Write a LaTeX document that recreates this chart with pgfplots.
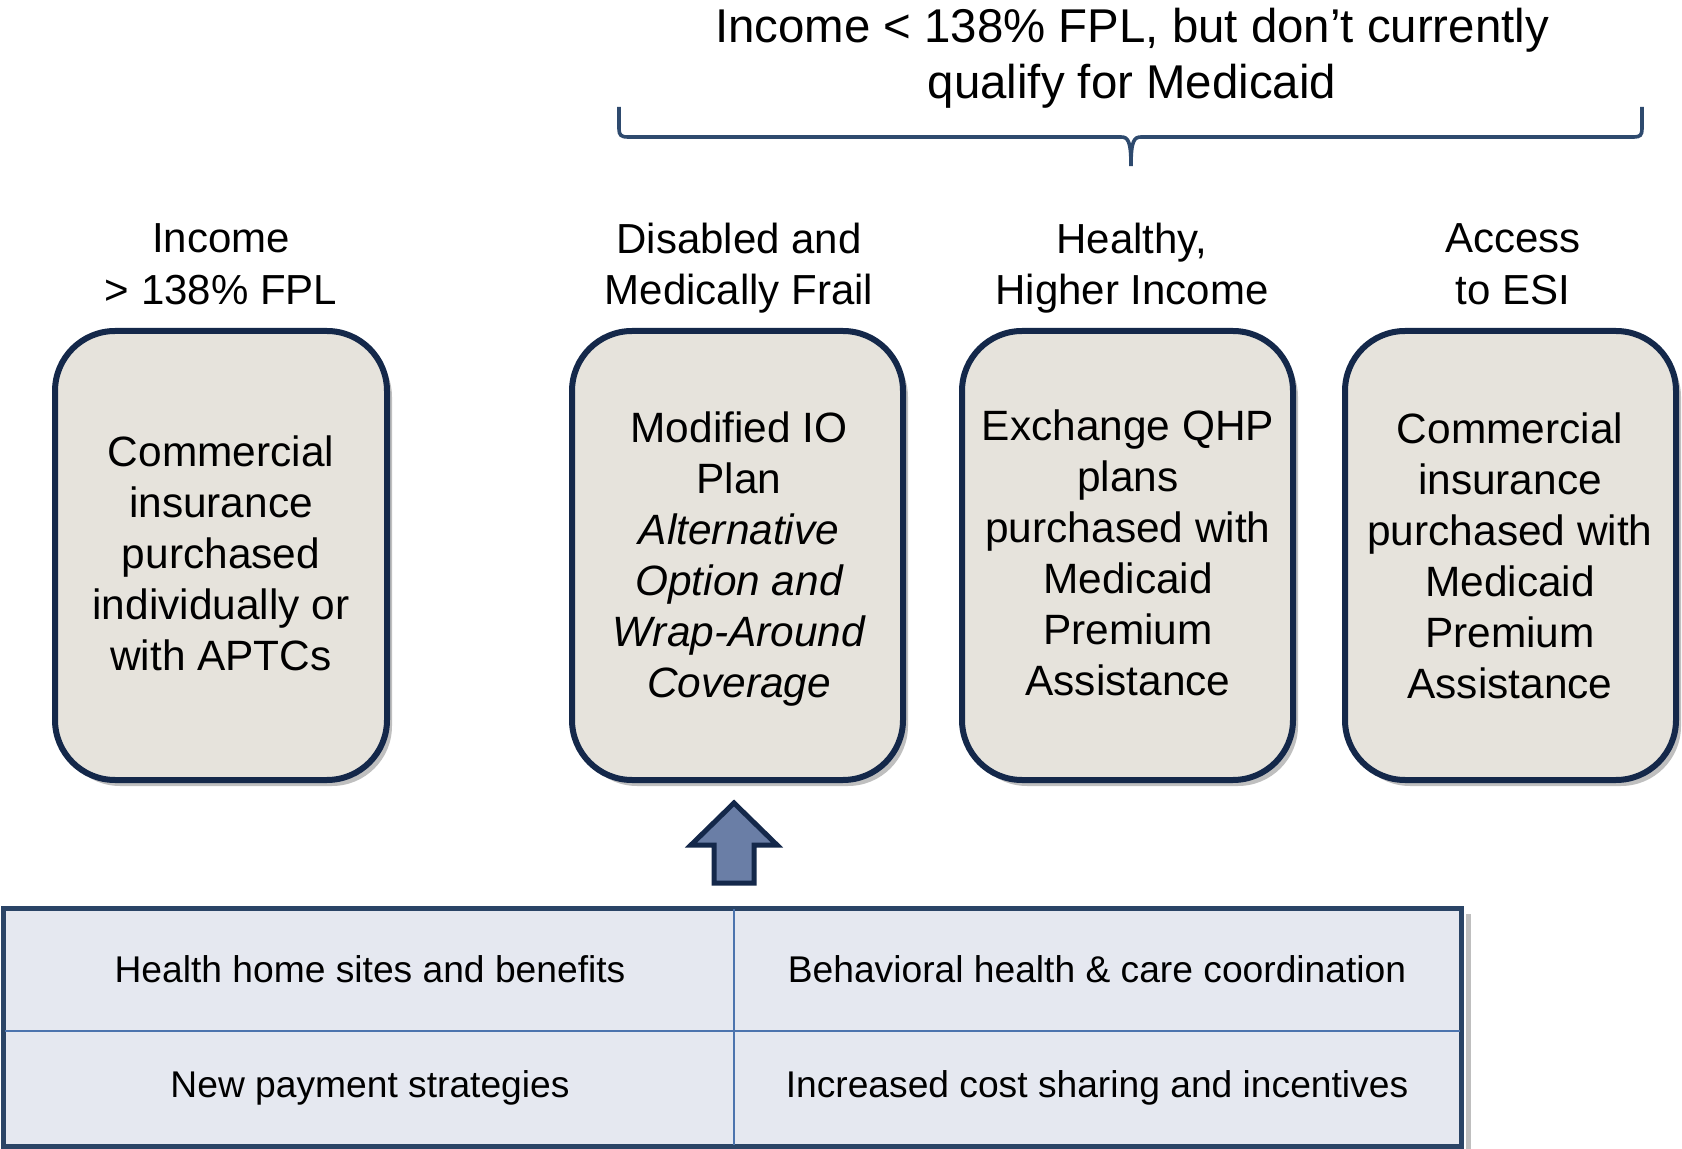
\documentclass[border=0pt]{standalone}
\usepackage{pgfplots}
\pgfplotsset{compat=1.18}
\usepackage{fontspec}
\setmainfont{Liberation Sans}
\usetikzlibrary{shadows}

\definecolor{boxfill}{HTML}{E6E3DC}
\definecolor{boxline}{HTML}{14284A}
\definecolor{bracecol}{HTML}{2E4A6E}
\definecolor{arrowfill}{HTML}{6A7EA6}
\definecolor{tabfill}{HTML}{E5E8F0}
\definecolor{tabline}{HTML}{2A4466}
\definecolor{tabinner}{HTML}{4C74AE}

\begin{document}
\begin{tikzpicture}[
    boxstyle/.style={draw=boxline, line width=3pt, fill=boxfill,
      rounded corners=30pt,
      drop shadow={shadow xshift=2.5pt, shadow yshift=-3pt, fill=black, opacity=0.25}},
    txt/.style={align=center, font=\fontsize{21.2}{25.5}\selectfont},
    head/.style={align=center, font=\fontsize{21}{25.8}\selectfont},
    cell/.style={font=\fontsize{18.6}{22}\selectfont}
  ]
  \begin{axis}[
      name=ax,
      width=841pt, height=574.5pt,
      scale only axis,
      hide axis,
      xmin=0, xmax=1682,
      ymin=0, ymax=1149,
      y dir=reverse,
      clip=false
    ]

    % title and brace
    \node[align=center, font=\fontsize{23.7}{28.2}\selectfont] at (1132,58)
      {Income < 138\% FPL, but don’t currently\\qualify for Medicaid};
    \draw[bracecol, line width=1.8pt]
      (619,107) -- (619,129) .. controls (619,135) and (621,137) .. (628,137)
      -- (1121,137) .. controls (1128,137) and (1131,141) .. (1131,166)
      .. controls (1131,141) and (1134,137) .. (1141,137)
      -- (1634,137) .. controls (1640,137) and (1642,135) .. (1642,129)
      -- (1642,107);

    % column headings
    \node[head] at (221,264) {Income\\> 138\% FPL};
    \node[head] at (739,268) {Disabled and\\Medically Frail};
    \node[head] at (1132,268) {Healthy,\\Higher Income};
    \node[head] at (1513,264) {Access\\to ESI};

    % boxes
    \draw[boxstyle] (55,331) rectangle (387,780);
    \draw[boxstyle] (572,331) rectangle (903,780);
    \draw[boxstyle] (962,331) rectangle (1293,780);
    \draw[boxstyle] (1345,331) rectangle (1676,780);

    \node[txt] at (221,553) {Commercial\\insurance\\purchased\\individually or\\with APTCs};
    \node[txt] at (739,559) {Modified IO\\Plan\\\itshape Alternative\\\itshape Option and\\\itshape Wrap-Around\\\itshape Coverage};
    \node[txt] at (1128,553) {Exchange QHP\\plans\\purchased with\\Medicaid\\Premium\\Assistance};
    \node[txt] at (1510,556) {Commercial\\insurance\\purchased with\\Medicaid\\Premium\\Assistance};

    % arrow
    \draw[boxline, line width=2.5pt, fill=arrowfill, line join=miter]
      (734,803) -- (777,845) -- (754,845) -- (754,883) -- (714,883)
      -- (714,845) -- (691,845) -- cycle;

    % table
    \fill[black, opacity=0.25] (1466,914) rectangle (1471,1149);
    \draw[tabline, line width=2.5pt, fill=tabfill] (4,908) rectangle (1461,1146);
    \draw[tabinner, line width=1pt] (734,909) -- (734,1145);
    \draw[tabinner, line width=1pt] (5,1031) -- (1460,1031);
    \node[cell] at (370,969) {Health home sites and benefits};
    \node[cell] at (1097,969) {Behavioral health \& care coordination};
    \node[cell] at (370,1088) {New payment strategies};
    \node[cell] at (1097,1088) {Increased cost sharing and incentives};
  \end{axis}
  \pgfresetboundingbox
  \path (ax.south west) rectangle (ax.north east);
\end{tikzpicture}
\end{document}
